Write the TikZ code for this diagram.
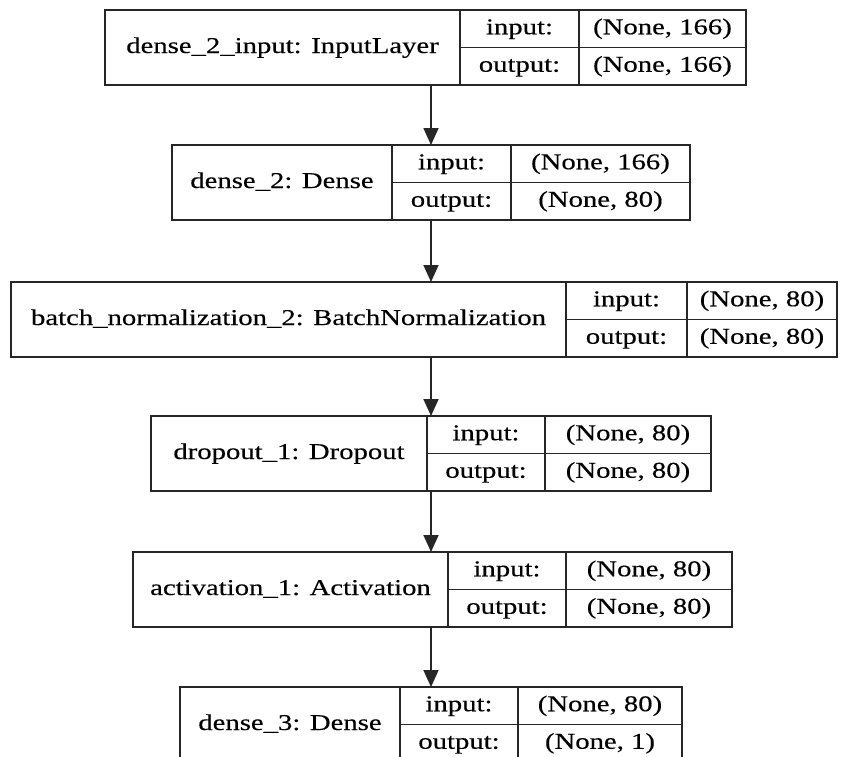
\documentclass[tikz,border=0pt]{standalone}
\usepackage{fontspec}
\setmainfont{Liberation Serif}[FakeStretch=1.27, FakeBold=0.3]
\usetikzlibrary{arrows.meta}
\tikzset{
  cellbase/.style={draw=black!85, line width=1.7pt, inner sep=0pt, outer sep=0pt,
    font=\fontsize{22.6}{27}\selectfont, text height=16pt, text depth=5pt, align=center},
  namecell/.style={cellbase, minimum height=75pt},
  valcell/.style={cellbase, minimum height=37.5pt},
  flow/.style={draw=black!85, line width=1.7pt, -{Triangle[length=17pt,width=15pt]}}
}
\newcommand\layerbox[9]{%
  \node[namecell, minimum width={(#4-#3)*1pt}, anchor=north west] (#1n) at (#3,#2) {#7};
  \node[valcell, minimum width={(#5-#4)*1pt}, anchor=north west] (#1il) at (#1n.north east) {input:};
  \node[valcell, minimum width={(#6-#5)*1pt}, anchor=north west] (#1iv) at (#1il.north east) {#8};
  \node[valcell, minimum width={(#5-#4)*1pt}, anchor=north west] (#1ol) at (#1il.south west) {output:};
  \node[valcell, minimum width={(#6-#5)*1pt}, anchor=north west] (#1ov) at (#1ol.north east) {#9};
}
\begin{document}
\begin{tikzpicture}[x=1pt, y=-1pt]
  \useasboundingbox[fill=white] (0,0) rectangle (841,756);
  \layerbox{a}{10}{105}{460}{579}{746}{dense\_2\_input: InputLayer}{(None, 166)}{(None, 166)}
  \layerbox{b}{145}{172}{392}{511}{690}{dense\_2: Dense}{(None, 166)}{(None, 80)}
  \layerbox{c}{282}{11}{566}{687}{837}{batch\_normalization\_2: BatchNormalization}{(None, 80)}{(None, 80)}
  \layerbox{d}{416}{151}{427}{545}{711}{dropout\_1: Dropout}{(None, 80)}{(None, 80)}
  \layerbox{e}{552}{133}{448}{566}{732}{activation\_1: Activation}{(None, 80)}{(None, 80)}
  \layerbox{f}{687}{180}{400}{518}{682}{dense\_3: Dense}{(None, 80)}{(None, 1)}
  \coordinate (ax) at (431,0);
  \draw[flow] (an.south -| ax) -- (bn.north -| ax);
  \draw[flow] (bn.south -| ax) -- (cn.north -| ax);
  \draw[flow] (cn.south -| ax) -- (dn.north -| ax);
  \draw[flow] (dn.south -| ax) -- (en.north -| ax);
  \draw[flow] (en.south -| ax) -- (fn.north -| ax);
\end{tikzpicture}
\end{document}
